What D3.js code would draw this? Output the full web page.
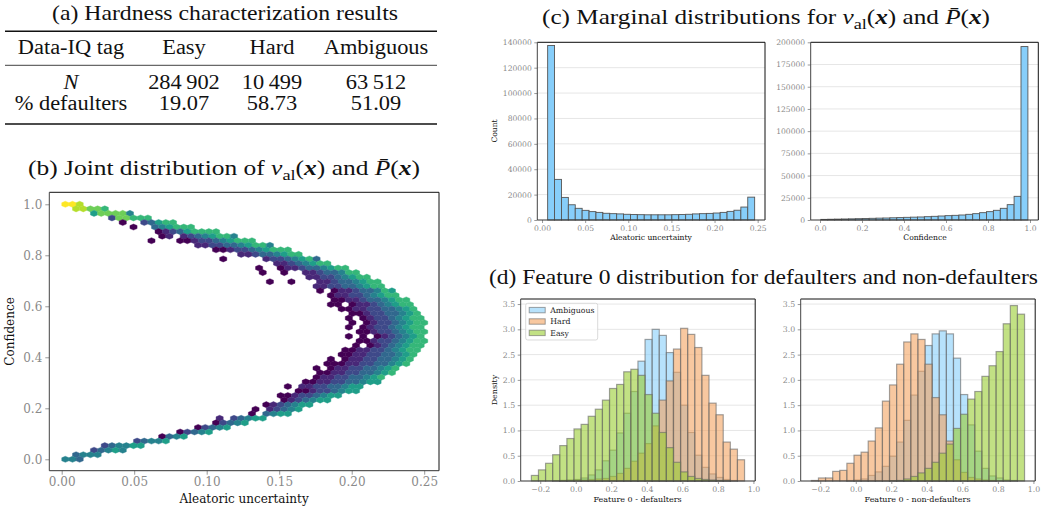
<!DOCTYPE html>
<html><head><meta charset="utf-8">
<script src="https://cdn.jsdelivr.net/npm/d3@7"></script>
<style>body{margin:0;background:#fff} svg{display:block}</style>
</head><body><svg id="c" width="1044" height="512"></svg>
<script>
// ================= DATA =================
const tableHeader = ["Data-IQ tag", "Easy", "Hard", "Ambiguous"];
const tableRowN = ["284\u2009902", "10\u2009499", "63\u2009512"];
const tableRowDef = ["19.07", "58.73", "51.09"];

// (c) marginal histograms (30 bins each)
const aleaRange = [0.0065, 0.2465];
const aleaCounts = [137500,32000,17800,12000,9200,7600,6600,6000,5300,5000,4800,4500,4300,4200,4100,4100,4100,4100,4200,4300,4500,4800,5000,5200,5500,6000,6800,7700,10200,18000];
const confRange = [0.004, 0.990];
const confCounts = [700,850,1000,1150,1300,1500,1700,1900,2100,2250,2500,2700,3000,3200,3400,3750,4130,4500,4900,5250,5630,6380,7130,8260,9400,10900,13140,17270,26650,195200];

// (d) feature 0 densities (30 common bins)
const featRange = [-0.25, 0.95];
const groupNames = ["Ambiguous", "Hard", "Easy"];
const defAmbiguous = [0,0,0,0,0.01,0.02,0.03,0.06,0.12,0.22,0.40,0.61,0.95,1.34,1.77,2.37,2.80,3.00,2.88,2.54,2.15,1.50,0.96,0.51,0.27,0.14,0.07,0.03,0.01,0];
const defHard = [0,0,0,0.005,0.01,0.01,0.02,0.02,0.03,0.04,0.05,0.09,0.15,0.25,0.39,0.55,0.74,1.09,1.60,1.98,2.61,3.02,2.90,2.64,2.09,1.54,1.31,0.77,0.63,0.42];
const defEasy = [0.11,0.22,0.35,0.52,0.70,0.84,1.03,1.12,1.28,1.42,1.60,1.83,1.91,2.16,2.21,2.09,1.71,1.34,0.96,0.66,0.37,0.18,0.09,0.05,0.03,0.02,0.01,0.005,0,0];
const nonAmbiguous = [0,0,0,0,0,0.01,0.02,0.04,0.11,0.18,0.29,0.49,0.77,1.20,1.70,2.17,2.68,2.91,2.97,2.91,2.43,1.71,1.11,0.59,0.25,0.10,0.06,0.02,0.01,0];
const nonHard = [0.01,0.06,0.06,0.19,0.21,0.35,0.51,0.57,0.79,1.05,1.58,1.90,2.31,2.75,2.91,2.80,2.31,1.65,1.31,0.79,0.42,0.17,0.07,0.04,0.02,0.01,0,0,0,0];
const nonEasy = [0,0,0,0,0,0,0,0,0,0,0,0.005,0.01,0.04,0.09,0.16,0.25,0.37,0.55,0.73,1.04,1.32,1.62,1.77,2.07,2.28,2.56,3.11,3.47,3.30];

// (b) hexbin cells: [lattice row, outermost column, levels inner->outer]
// level digit d -> viridis(d/9) (log count), '.' = empty cell
const hexRows = [
  [56, 2, "998"],
  [55, 5, "88776"],
  [54, 9, "577774"],
  [53, 11, "277666"],
  [52, 15, "0..23566"],
  [51, 17, "0..345666"],
  [50, 21, "012356666"],
  [49, 23, "01.12345664"],
  [48, 26, "0...00122345666"],
  [47, 28, "11223345664"],
  [46, 31, "00122345666"],
  [45, 32, "112334566"],
  [44, 35, "0.....12234563"],
  [43, 36, "11234566"],
  [42, 39, "0..0112334566"],
  [41, 40, "0..0..11233466"],
  [40, 42, "112234566"],
  [39, 43, "0..0...112334566"],
  [38, 44, "1122334566"],
  [37, 45, "0.011233465"],
  [36, 46, "0112234566"],
  [35, 47, "00112334566"],
  [34, 48, "00.011234566"],
  [33, 48, "00112233456"],
  [32, 49, "0012233456"],
  [31, 49, "0.012234566"],
  [30, 50, "0.012234566"],
  [29, 49, "0.012234566"],
  [28, 50, "0012234566"],
  [27, 49, "0.0.0123456"],
  [26, 50, "0012234566"],
  [25, 49, "0.01234566"],
  [24, 49, "00112234566"],
  [23, 48, "00112233456"],
  [22, 48, "0.0112233456"],
  [21, 47, "000112233456"],
  [20, 46, "0.0112233456"],
  [19, 45, "00112233456"],
  [18, 44, "0112233456"],
  [17, 43, "00112233455"],
  [16, 41, "0.112233455"],
  [15, 40, "001223455"],
  [14, 38, "001223455"],
  [13, 36, "0123455"],
  [12, 34, "0123455"],
  [11, 32, "0.12345"],
  [10, 31, "0.3455"],
  [9, 27, "1.23455"],
  [8, 25, "02345"],
  [7, 22, "02345"],
  [6, 20, "02345"],
  [5, 16, "0345"],
  [4, 14, "23445"],
  [3, 10, "234455"],
  [2, 8, "23454"],
  [1, 4, "3444"],
  [0, 2, "443"]
];

const bTicksX = [0, 0.05, 0.10, 0.15, 0.20, 0.25];
const bTicksY = [0, 0.2, 0.4, 0.6, 0.8, 1.0];
const cTicksAleaX = [0, 0.05, 0.10, 0.15, 0.20, 0.25];
const cTicksAleaY = [0,20000,40000,60000,80000,100000,120000,140000];
const cTicksConfX = [0, 0.2, 0.4, 0.6, 0.8, 1.0];
const cTicksConfY = [0,25000,50000,75000,100000,125000,150000,175000,200000];
const dTicksX = [-0.2, 0, 0.2, 0.4, 0.6, 0.8, 1.0];
const dTicksY = [0, 0.5, 1.0, 1.5, 2.0, 2.5, 3.0, 3.5];

// ================= DRAWING =================
const svg = d3.select("#c");
const SERIF = "'Liberation Serif','Times New Roman',serif";
const DV = "'DejaVu Serif',serif";
const TICKC = "#8a8a8a";

// ---- math-ish titles ----
function mathTitle(x, y, prefix, size, width) {
  const t = svg.append("text").attr("x", x).attr("y", y).attr("text-anchor", "middle")
    .attr("font-family", SERIF).attr("font-size", size).attr("fill", "#111")
    .attr("textLength", width).attr("lengthAdjust", "spacingAndGlyphs");
  const sh = size * 0.22;
  t.append("tspan").text(prefix);
  t.append("tspan").attr("font-style", "italic").text("v");
  t.append("tspan").attr("font-size", size * 0.72).attr("dy", sh).text("al");
  t.append("tspan").attr("dy", -sh).text("(");
  t.append("tspan").attr("font-style", "italic").attr("font-weight", "bold").text("x");
  t.append("tspan").text(") and ");
  t.append("tspan").attr("font-style", "italic").text("P\u0304");
  t.append("tspan").text("(");
  t.append("tspan").attr("font-style", "italic").attr("font-weight", "bold").text("x");
  t.append("tspan").text(")");
}
function plainTitle(x, y, txt, size, width) {
  svg.append("text").attr("x", x).attr("y", y).attr("text-anchor", "middle")
    .attr("font-family", SERIF).attr("font-size", size).attr("fill", "#111")
    .attr("textLength", width).attr("lengthAdjust", "spacingAndGlyphs").text(txt);
}

// ---- (a) table ----
plainTitle(225, 20, "(a) Hardness characterization results", 21, 346);
const colX = [71, 184, 272, 376];
const ruleX = [5, 437];
[[31.3, 1.4], [65.3, 0.8], [124, 1.4]].forEach(([y, w]) =>
  svg.append("line").attr("x1", ruleX[0]).attr("x2", ruleX[1]).attr("y1", y).attr("y2", y)
    .attr("stroke", "#111").attr("stroke-width", w));
function cell(x, y, txt, italic) {
  const t = svg.append("text").attr("x", x).attr("y", y).attr("text-anchor", "middle")
    .attr("font-family", SERIF).attr("font-size", 20).attr("fill", "#111")
    .attr("font-style", italic ? "italic" : null).text(txt);
  // stretch horizontally ~12% to mimic the wider Computer Modern face
  const w = t.node().getComputedTextLength();
  t.attr("textLength", w * 1.12).attr("lengthAdjust", "spacingAndGlyphs");
}
tableHeader.forEach((h, i) => cell(colX[i], 54.3, h));
cell(colX[0], 89.3, "N", true);
tableRowN.forEach((v, i) => cell(colX[i + 1], 89.3, v));
cell(colX[0], 110, "% defaulters");
tableRowDef.forEach((v, i) => cell(colX[i + 1], 110, v));

// ---- helpers ----
function styleAxis(g, fs) {
  g.select(".domain").remove();
  g.selectAll(".tick line").attr("stroke", "#999");
  g.selectAll(".tick text").attr("fill", TICKC).attr("font-family", DV).attr("font-size", fs);
}
function frame(l, r, t, b) {
  const g = svg.append("g").attr("fill", "none");
  g.append("line").attr("x1", l).attr("x2", r).attr("y1", t).attr("y2", t).attr("stroke", "#111");
  g.append("line").attr("x1", r).attr("x2", r).attr("y1", t).attr("y2", b).attr("stroke", "#111");
  g.append("line").attr("x1", l).attr("x2", l).attr("y1", t).attr("y2", b).attr("stroke", "#444");
  g.append("line").attr("x1", l).attr("x2", r).attr("y1", b).attr("y2", b).attr("stroke", "#333");
}
function label(x, y, txt, fs, rot) {
  const t = svg.append("text").attr("font-family", DV).attr("font-size", fs).attr("fill", "#111")
    .attr("text-anchor", "middle").text(txt);
  if (rot) t.attr("transform", `translate(${x},${y}) rotate(-90)`);
  else t.attr("x", x).attr("y", y);
}

// ---- (b) hexbin ----
mathTitle(224, 175, "(b) Joint distribution of ", 21, 392);
const bL = 49.3, bR = 439, bT = 192.3, bB = 470.7;
const bX = d3.scaleLinear().domain([-0.00855, 0.2602]).range([bL, bR]);
const bY = d3.scaleLinear().domain([-0.0447, 1.047]).range([bB, bT]);
const hexLattice = { xmin: 0.0025, sx: 0.00495, sy: 1 / 28 };
const hexShape = [[0.5, -1/6], [0.5, 1/6], [0, 1/3], [-0.5, 1/6], [-0.5, -1/6], [0, -1/3]];
const hexCells = [];
hexRows.forEach(([r, outer, lv]) => {
  const off = r % 2 ? 0.5 : 0;
  const start = outer - lv.length + 1;
  [...lv].forEach((ch, k) => {
    if (ch === ".") return;
    hexCells.push({ cx: hexLattice.xmin + (start + k + off) * hexLattice.sx, cy: r * hexLattice.sy / 2, lev: +ch / 9 });
  });
});
svg.append("g").selectAll("polygon").data(hexCells).join("polygon")
  .attr("points", d => hexShape.map(([a, b]) => [bX(d.cx + a * hexLattice.sx), bY(d.cy + b * hexLattice.sy)].join(",")).join(" "))
  .attr("fill", d => d3.interpolateViridis(d.lev))
  .attr("stroke", d => d3.interpolateViridis(d.lev)).attr("stroke-width", 0.4);
styleAxis(svg.append("g").attr("transform", `translate(0,${bB})`)
  .call(d3.axisBottom(bX).tickValues(bTicksX).tickFormat(d3.format(".2f")).tickSize(4)), 12);
styleAxis(svg.append("g").attr("transform", `translate(${bL},0)`)
  .call(d3.axisLeft(bY).tickValues(bTicksY).tickFormat(d3.format(".1f")).tickSize(4)), 12);
frame(bL, bR, bT, bB);
label((bL + bR) / 2, 502.5, "Aleatoric uncertainty", 12);
label(13.5, (bT + bB) / 2, "Confidence", 12, true);

// ---- generic histogram panel ----
function panel(cfg) {
  const x = d3.scaleLinear().domain(cfg.xdom).range([cfg.l, cfg.r]);
  const y = d3.scaleLinear().domain(cfg.ydom).range([cfg.b, cfg.t]);
  svg.append("g").selectAll("line").data(cfg.yticks.filter(v => v > 0)).join("line")
    .attr("x1", cfg.l).attr("x2", cfg.r).attr("y1", d => y(d)).attr("y2", d => y(d))
    .attr("stroke", "#e6e6e6").attr("stroke-width", 1);
  return { x, y };
}
function axes(cfg, s) {
  styleAxis(svg.append("g").attr("transform", `translate(0,${cfg.b})`)
    .call(d3.axisBottom(s.x).tickValues(cfg.xticks).tickFormat(cfg.xfmt).tickSize(3).tickPadding(2.5)), cfg.fs);
  styleAxis(svg.append("g").attr("transform", `translate(${cfg.l},0)`)
    .call(d3.axisLeft(s.y).tickValues(cfg.yticks).tickFormat(cfg.yfmt).tickSize(3).tickPadding(2.5)), cfg.fs);
  frame(cfg.l, cfg.r, cfg.t, cfg.b);
}
function binEdges(range, n) {
  return d3.range(n + 1).map(k => range[0] + k * (range[1] - range[0]) / n);
}

// ---- (c) marginals ----
mathTitle(766, 24, "(c) Marginal distributions for ", 21, 448);
function marginal(cfg, range, counts) {
  const s = panel(cfg);
  const e = binEdges(range, counts.length);
  svg.append("g").selectAll("rect").data(counts).join("rect")
    .attr("x", (d, i) => s.x(e[i])).attr("width", (d, i) => s.x(e[i + 1]) - s.x(e[i]))
    .attr("y", d => s.y(d)).attr("height", d => s.y(0) - s.y(d))
    .attr("fill", "#87CEFA").attr("stroke", "#555").attr("stroke-width", 0.9);
  axes(cfg, s);
}
const cA = { l: 537.3, r: 765, t: 42.3, b: 220, xdom: [-0.0055, 0.2585], ydom: [0, 140000],
  xticks: cTicksAleaX, yticks: cTicksAleaY, xfmt: d3.format(".2f"), yfmt: d3.format("d"), fs: 7.6 };
marginal(cA, aleaRange, aleaCounts);
label(651, 240, "Aleatoric uncertainty", 7.6);
label(497, 131, "Count", 7.6, true);
const cB = { l: 810.7, r: 1038.3, t: 42.3, b: 220, xdom: [-0.0443, 1.0395], ydom: [0, 200000],
  xticks: cTicksConfX, yticks: cTicksConfY, xfmt: d3.format(".1f"), yfmt: d3.format("d"), fs: 7.6 };
marginal(cB, confRange, confCounts);
label(925, 240, "Confidence", 7.6);

// ---- (d) feature distributions ----
plainTitle(763.5, 283.5, "(d) Feature 0 distribution for defaulters and non-defaulters", 21, 549);
const groupColor = { Ambiguous: "#87CEFA", Hard: "#F4A460", Easy: "#9ACD32" };
function featPanel(cfg, series) {
  const s = panel(cfg);
  const e = binEdges(featRange, 30);
  groupNames.forEach((name, gi) => {
    svg.append("g").selectAll("rect").data(series[gi]).join("rect")
      .attr("x", (d, i) => s.x(e[i])).attr("width", (d, i) => s.x(e[i + 1]) - s.x(e[i]))
      .attr("y", d => s.y(d)).attr("height", d => s.y(0) - s.y(d))
      .attr("fill", groupColor[name]).attr("fill-opacity", 0.6)
      .attr("stroke", "#666").attr("stroke-opacity", 0.6).attr("stroke-width", 1.2);
  });
  axes(cfg, s);
}
const dA = { l: 520.7, r: 755.2, t: 299, b: 481, xdom: [-0.31, 1.01], ydom: [0, 3.6],
  xticks: dTicksX, yticks: dTicksY, xfmt: d3.format(".1f"), yfmt: d3.format(".1f"), fs: 7.8 };
featPanel(dA, [defAmbiguous, defHard, defEasy]);
const dB = Object.assign({}, dA, { l: 800.7, r: 1035.2 });
featPanel(dB, [nonAmbiguous, nonHard, nonEasy]);
label(637.5, 501.5, "Feature 0 - defaulters", 8);
label(917.5, 501.5, "Feature 0 - non-defaulters", 8);
label(497, 390, "Density", 8, true);

// legend
const lg = svg.append("g").attr("transform", "translate(525.7,303.3)");
lg.append("rect").attr("width", 72).attr("height", 36.7).attr("rx", 2)
  .attr("fill", "#fff").attr("fill-opacity", 0.8).attr("stroke", "#d0d0d0").attr("stroke-width", 0.8);
groupNames.forEach((name, i) => {
  const yy = 6.7 + i * 11.4;
  lg.append("rect").attr("x", 3.5).attr("y", yy - 2.6).attr("width", 16).attr("height", 5.4)
    .attr("fill", groupColor[name]).attr("fill-opacity", 0.6)
    .attr("stroke", "#666").attr("stroke-opacity", 0.6).attr("stroke-width", 1);
  lg.append("text").attr("x", 24.5).attr("y", yy + 2.8).attr("font-family", DV).attr("font-size", 7.8)
    .attr("fill", "#222").text(name);
});
</script></body></html>
